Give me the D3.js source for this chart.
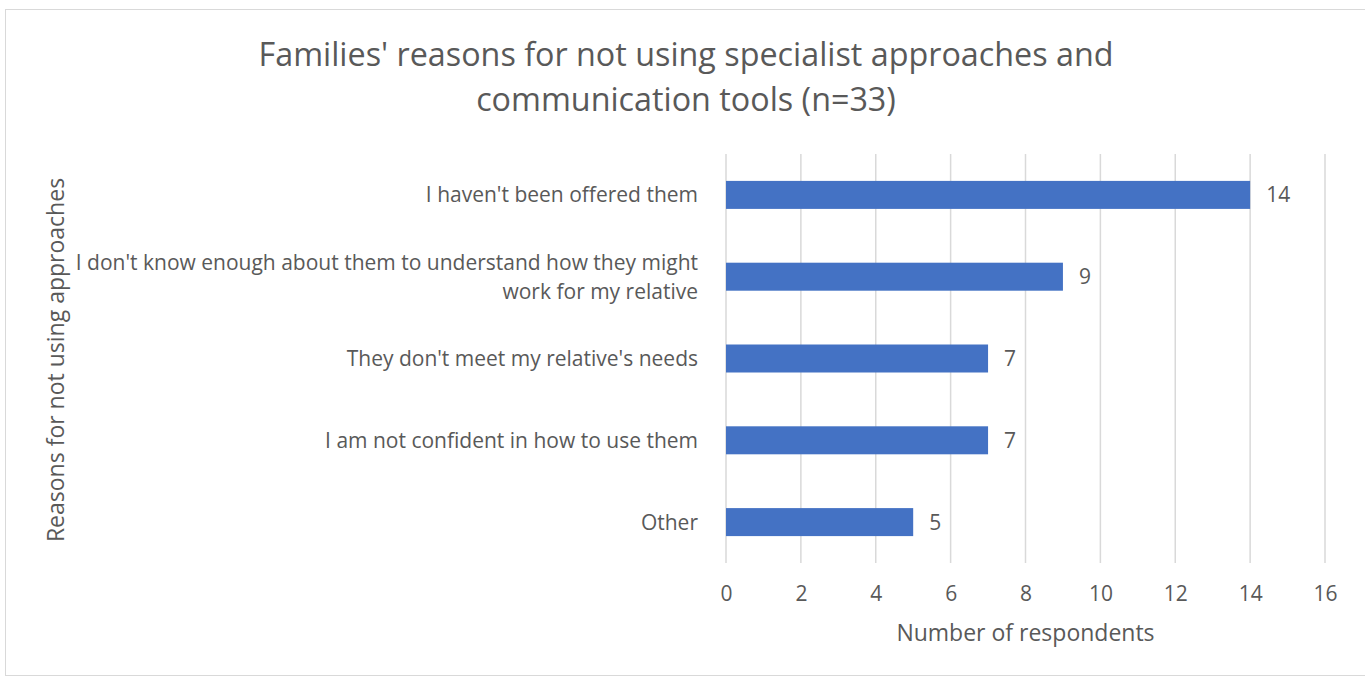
<!DOCTYPE html>
<html>
<head>
<meta charset="utf-8">
<script src="https://cdn.jsdelivr.net/npm/d3@7"></script>
<style>
  html, body { margin: 0; padding: 0; background: #fff; }
  svg { display: block; }
  text { font-family: "Open Sans", Lato, sans-serif; fill: #595959; }
</style>
</head>
<body>
<svg id="chart" width="1365" height="677"></svg>
<script>
// Survey responses: reasons families gave for not using the approaches
const categories = [
  "I haven't been offered them",
  "I don't know enough about them to understand how they might|work for my relative",
  "They don't meet my relative's needs",
  "I am not confident in how to use them",
  "Other"
];
const counts = [14, 9, 7, 7, 5];
const xTicks = [0, 2, 4, 6, 8, 10, 12, 14, 16];
const titleLines = [
  "Families' reasons for not using specialist approaches and",
  "communication tools (n=33)"
];
const xTitle = "Number of respondents";
const yTitle = "Reasons for not using approaches";

const svg = d3.select("#chart");
const W = 1365, H = 677;
const plot = { left: 726, right: 1325, top: 154, bottom: 563 };
const FONT = "'Open Sans', Lato, sans-serif";

// chart frame
svg.append("rect")
  .attr("x", 5.5).attr("y", 9.5)
  .attr("width", W + 20).attr("height", H - 9 - 2)
  .attr("fill", "#fff").attr("stroke", "#d9d9d9").attr("stroke-width", 1);

const x = d3.scaleLinear().domain([0, 16]).range([plot.left, plot.right]);
const y = d3.scaleBand().domain(categories).range([plot.top, plot.bottom]).paddingInner(0.66).paddingOuter(0.33);

// vertical gridlines
svg.append("g").selectAll("line").data(xTicks).join("line")
  .attr("x1", d => x(d)).attr("x2", d => x(d))
  .attr("y1", plot.top).attr("y2", plot.bottom)
  .attr("stroke", "#d9d9d9").attr("stroke-width", 1.5);

// x tick labels
const xAxis = d3.axisBottom(x).tickValues(xTicks).tickSize(0).tickPadding(0);
const gx = svg.append("g").attr("transform", `translate(0,${plot.bottom + 38})`).call(xAxis);
gx.select(".domain").remove();
gx.selectAll("text").attr("font-size", 21).attr("fill", "#595959")
  .style("font-family", FONT).attr("dy", 0);

// bars
const bandCenter = d => y(d) + y.bandwidth() / 2;
const barH = 28;
svg.append("g").selectAll("rect").data(categories).join("rect")
  .attr("x", x(0))
  .attr("y", d => bandCenter(d) - barH / 2)
  .attr("width", (d, i) => x(counts[i]) - x(0))
  .attr("height", barH)
  .attr("fill", "#4472c4");

// value labels
svg.append("g").selectAll("text").data(categories).join("text")
  .attr("x", (d, i) => x(counts[i]) + 16)
  .attr("y", d => bandCenter(d) + 7.5)
  .attr("font-size", 21)
  .text((d, i) => counts[i]);

// category labels (split on |)
const cat = svg.append("g").selectAll("text").data(categories).join("text")
  .attr("text-anchor", "end")
  .attr("font-size", 21);
cat.each(function (d) {
  const lines = d.split("|");
  const t = d3.select(this);
  const c = bandCenter(d);
  const lh = 29;
  const y0 = c + 7.5 - (lines.length - 1) * lh / 2;
  lines.forEach((ln, k) => {
    t.append("tspan").attr("x", 698).attr("y", y0 + k * lh).text(ln);
  });
});

// title
svg.append("g").selectAll("text").data(titleLines).join("text")
  .attr("x", 686).attr("y", (d, i) => 66 + i * 45)
  .attr("text-anchor", "middle")
  .attr("font-size", 32.3)
  .text(d => d);

// axis titles
svg.append("text")
  .attr("x", (plot.left + plot.right) / 2).attr("y", 641)
  .attr("text-anchor", "middle").attr("font-size", 23)
  .text(xTitle);

svg.append("text")
  .attr("transform", `translate(64,${360}) rotate(-90)`)
  .attr("text-anchor", "middle").attr("font-size", 23)
  .text(yTitle);
</script>
</body>
</html>
